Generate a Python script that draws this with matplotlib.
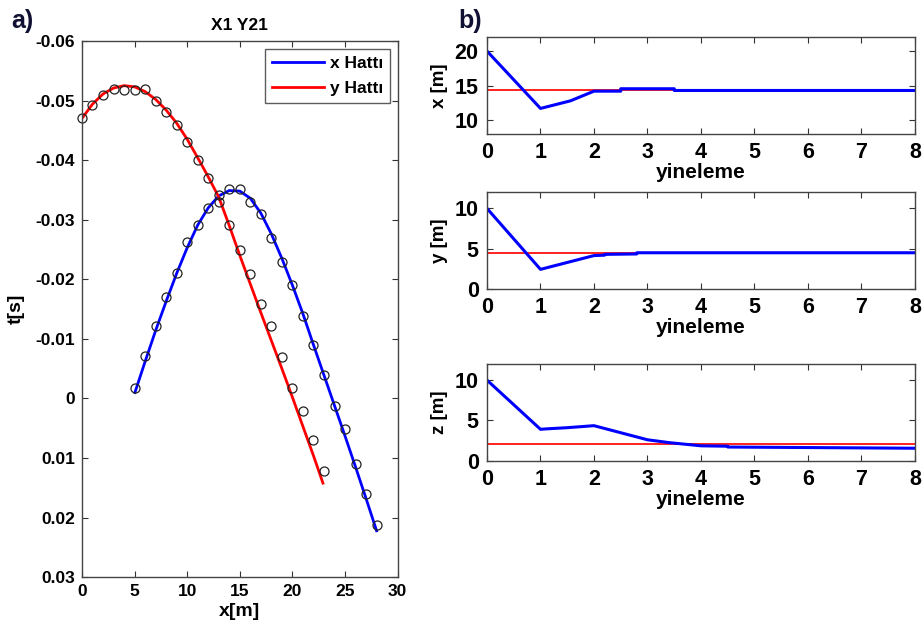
import numpy as np
import matplotlib.pyplot as plt

plt.rcParams['font.family'] = ['Liberation Sans', 'DejaVu Sans']
plt.rcParams['font.weight'] = 'bold'
plt.rcParams['axes.unicode_minus'] = False

# a) travel time picks (circles) and fitted curves for the two lines
x_hat_pick_x = [5, 6, 7, 8, 9, 10, 11, 12, 13, 14, 15, 16, 17, 18, 19, 20,
                21, 22, 23, 24, 25, 26, 27, 28]
x_hat_pick_t = [-0.0018, -0.0072, -0.0121, -0.0170, -0.0210, -0.0262, -0.0291,
                -0.0319, -0.0341, -0.0352, -0.0352, -0.0329, -0.0310, -0.0270,
                -0.0229, -0.0190, -0.0139, -0.0089, -0.0039, 0.0012, 0.0052,
                0.0110, 0.0160, 0.0213]
y_hat_pick_x = [0, 1, 2, 3, 4, 5, 6, 7, 8, 9, 10, 11, 12, 13, 14, 15, 16, 17,
                18, 19, 20, 21, 22, 23]
y_hat_pick_t = [-0.0470, -0.0492, -0.0510, -0.0520, -0.0518, -0.0518, -0.0520,
                -0.0500, -0.0480, -0.0459, -0.0431, -0.0400, -0.0370, -0.0330,
                -0.0291, -0.0250, -0.0209, -0.0158, -0.0121, -0.0070, -0.0018,
                0.0021, 0.0070, 0.0121]

x_hat_fit_x = [5.03, 6, 7, 8, 9, 10, 11, 12, 13, 14, 15, 16, 17, 18, 19, 20,
               21, 22, 23, 24, 25, 26, 27, 28]
x_hat_fit_t = [-0.0010, -0.0062, -0.0114, -0.0163, -0.0210, -0.0253, -0.0291,
               -0.0320, -0.0340, -0.0349, -0.0348, -0.0336, -0.0311, -0.0276,
               -0.0235, -0.0190, -0.0142, -0.0090, -0.0039, 0.0012, 0.0063,
               0.0115, 0.0168, 0.0222]
y_hat_fit_x = [0, 1, 2, 3, 4, 5, 6, 7, 8, 9, 10, 11, 12, 13, 14, 15, 16, 17,
               18, 19, 20, 21, 22, 22.9]
y_hat_fit_t = [-0.0470, -0.0494, -0.0511, -0.0521, -0.0525, -0.0523, -0.0515,
               -0.0502, -0.0484, -0.0462, -0.0435, -0.0404, -0.0372, -0.0338,
               -0.0290, -0.0240, -0.0192, -0.0144, -0.0097, -0.0050, -0.0002,
               0.0047, 0.0096, 0.0142]

# b) source position estimate per iteration, with the true position
it_x = [0, 1, 1.56, 2, 2.5, 2.5, 3.5, 3.5, 8]
est_x = [20, 11.7, 12.8, 14.2, 14.2, 14.55, 14.55, 14.3, 14.3]
true_x = 14.4
it_y = [0, 1, 2, 2.2, 2.2, 2.8, 2.8, 8]
est_y = [10, 2.44, 4.15, 4.2, 4.3, 4.35, 4.5, 4.5]
true_y = 4.5
it_z = [0, 1, 1.1, 1.5, 2, 3, 3.4, 4, 4.5, 4.5, 8]
est_z = [10, 3.9, 3.95, 4.1, 4.35, 2.6, 2.25, 1.85, 1.8, 1.7, 1.55]
true_z = 2.05

fig = plt.figure(figsize=(9.22, 6.32), dpi=100)


def style(ax, fs, pad):
    ax.tick_params(direction='in', top=True, right=True, length=4,
                   labelsize=fs, width=0.8, color='#333333', pad=pad)
    for s in ax.spines.values():
        s.set_color('#444444')
        s.set_linewidth(1.0)


ax = fig.add_axes([0.0889, 0.0866, 0.3424, 0.8486])
ax.plot(x_hat_fit_x, x_hat_fit_t, color='#0000ff', lw=2, label='x Hattı')
ax.plot(y_hat_fit_x, y_hat_fit_t, color='#ff0000', lw=2, label='y Hattı')
ax.plot(x_hat_pick_x, x_hat_pick_t, 'o', mfc='none', mec='#222222', ms=6.5,
        mew=0.9, clip_on=False)
ax.plot(y_hat_pick_x, y_hat_pick_t, 'o', mfc='none', mec='#222222', ms=6.5,
        mew=0.9, clip_on=False)
ax.set_xlim(0, 30)
ax.set_ylim(0.03, -0.06)
ax.set_xticks(range(0, 31, 5))
yt = [-0.06, -0.05, -0.04, -0.03, -0.02, -0.01, 0, 0.01, 0.02, 0.03]
ax.set_yticks(yt)
ax.set_yticklabels(['%g' % v for v in yt])
ax.set_xlabel('x[m]', fontsize=14, fontweight='bold', labelpad=3)
ax.set_ylabel('t[s]', fontsize=14, fontweight='bold', labelpad=8)
ax.set_title('X1 Y21', fontsize=12.5, fontweight='bold', pad=8)
style(ax, 12.5, 5)
leg = ax.legend(loc='upper right', fontsize=12.5, frameon=True, fancybox=False,
                handlelength=3.0, borderaxespad=0.45, labelspacing=0.6,
                handletextpad=0.3)
leg.get_frame().set_edgecolor('#333333')
leg.get_frame().set_linewidth(1.0)

right = [
    (0.788, it_x, est_x, true_x, (8, 22), [10, 15, 20], 'x [m]'),
    (0.5427, it_y, est_y, true_y, (0, 12), [0, 5, 10], 'y [m]'),
    (0.271, it_z, est_z, true_z, (0, 12), [0, 5, 10], 'z [m]'),
]
for bottom, it, est, true_val, lim, ticks, lab in right:
    a = fig.add_axes([0.5282, bottom, 0.4642, 0.153])
    a.axhline(true_val, color='#ff2020', lw=1.4)
    a.plot(it, est, color='#0000ff', lw=2.2)
    a.set_xlim(0, 8)
    a.set_ylim(*lim)
    a.set_yticks(ticks)
    a.set_xticks(range(0, 9))
    a.set_ylabel(lab, fontsize=13.5, fontweight='bold', labelpad=5)
    a.set_xlabel('yineleme', fontsize=15, fontweight='bold', labelpad=0)
    style(a, 15.5, 6)

fig.text(0.012, 0.955, 'a)', fontsize=18, fontweight='bold', color='#111133')
fig.text(0.497, 0.955, 'b)', fontsize=18, fontweight='bold', color='#111133')

fig.savefig('out.png', dpi=100)
